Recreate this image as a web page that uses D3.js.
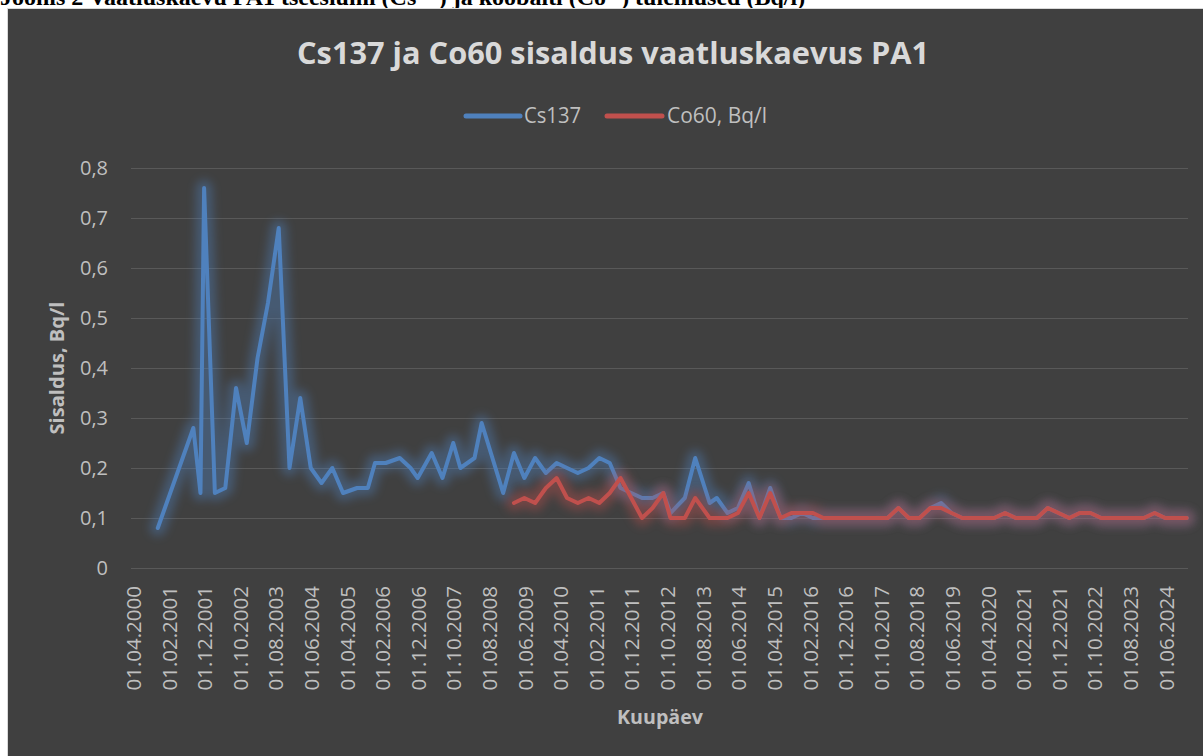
<!DOCTYPE html>
<html>
<head>
<meta charset="utf-8">
<script src="https://cdn.jsdelivr.net/npm/d3@7"></script>
<style>
  html, body { margin: 0; padding: 0; background: #ffffff; }
  svg { display: block; }
</style>
</head>
<body>
<svg id="chart" width="1203" height="756"></svg>
<script>
// ---------- DATA ----------
const chartTitle = "Cs137 ja Co60 sisaldus vaatluskaevus PA1";
const seriesNames = ["Cs137", "Co60, Bq/l"];
const yAxisTitle = "Sisaldus, Bq/l";
const xAxisTitle = "Kuupäev";

const xTickLabels = ["01.04.2000","01.02.2001","01.12.2001","01.10.2002","01.08.2003","01.06.2004",
  "01.04.2005","01.02.2006","01.12.2006","01.10.2007","01.08.2008","01.06.2009","01.04.2010",
  "01.02.2011","01.12.2011","01.10.2012","01.08.2013","01.06.2014","01.04.2015","01.02.2016",
  "01.12.2016","01.10.2017","01.08.2018","01.06.2019","01.04.2020","01.02.2021","01.12.2021",
  "01.10.2022","01.08.2023","01.06.2024"];
const yTickValues = [0, 0.1, 0.2, 0.3, 0.4, 0.5, 0.6, 0.7, 0.8];
const yTickLabels = ["0", "0,1", "0,2", "0,3", "0,4", "0,5", "0,6", "0,7", "0,8"];

// Cs137 sampling dates and values (Bq/l)
const csDates = [
  "2000-10-22","2001-08-22","2001-10-22","2001-11-22","2002-02-22","2002-05-22","2002-08-22","2002-11-22",
  "2003-02-22","2003-05-22","2003-08-22","2003-11-22","2004-02-22","2004-05-22","2004-08-22","2004-11-22",
  "2005-02-22","2005-06-22","2005-09-22","2005-11-22","2006-02-22","2006-06-22","2006-09-22","2006-11-22",
  "2007-03-22","2007-06-22","2007-09-22","2007-11-22","2008-03-22","2008-05-22","2008-11-22",
  "2009-02-22","2009-05-22","2009-08-22","2009-11-22","2010-02-22","2010-05-22","2010-08-22","2010-11-22",
  "2011-02-22","2011-05-22","2011-08-22","2011-11-22","2012-02-22","2012-05-22","2012-08-22","2012-10-22",
  "2013-02-22","2013-05-22","2013-09-22","2013-11-22","2014-02-22","2014-05-22","2014-08-22","2014-11-22",
  "2015-02-22","2015-05-22","2015-08-22","2015-11-22","2016-02-22","2016-05-22","2016-08-22","2016-11-22",
  "2017-02-22","2017-05-22","2017-08-22","2017-11-22","2018-02-22","2018-05-22","2018-08-22","2018-11-22",
  "2019-02-22","2019-05-22","2019-08-22","2019-11-22","2020-02-22","2020-05-22","2020-08-22","2020-11-22",
  "2021-02-22","2021-05-22","2021-08-22","2021-11-22","2022-02-22","2022-05-22","2022-08-22","2022-11-22",
  "2023-02-22","2023-05-22","2023-08-22","2023-11-22","2024-02-22","2024-05-22","2024-08-22","2024-11-22"];
const csValues = [
  0.08,0.28,0.15,0.76,0.15,0.16,0.36,0.25,
  0.42,0.53,0.68,0.20,0.34,0.20,0.17,0.20,
  0.15,0.16,0.16,0.21,0.21,0.22,0.20,0.18,
  0.23,0.18,0.25,0.20,0.22,0.29,0.15,
  0.23,0.18,0.22,0.19,0.21,0.20,0.19,0.20,
  0.22,0.21,0.16,0.15,0.14,0.14,0.15,0.11,
  0.14,0.22,0.13,0.14,0.11,0.12,0.17,0.10,
  0.16,0.10,0.10,0.11,0.10,0.10,0.10,0.10,
  0.10,0.10,0.10,0.10,0.12,0.10,0.10,0.12,
  0.13,0.11,0.10,0.10,0.10,0.10,0.11,0.10,
  0.10,0.10,0.12,0.11,0.10,0.11,0.11,0.10,
  0.10,0.10,0.10,0.10,0.11,0.10,0.10,0.10];

// Co60 sampling dates and values (Bq/l)
const coDates = [
  "2009-02-22","2009-05-22","2009-08-22","2009-11-22","2010-02-22","2010-05-22","2010-08-22","2010-11-22",
  "2011-02-22","2011-05-22","2011-08-22","2011-11-22","2012-02-22","2012-05-22","2012-08-22","2012-10-22",
  "2013-02-22","2013-05-22","2013-09-22","2013-11-22","2014-02-22","2014-05-22","2014-08-22","2014-11-22",
  "2015-02-22","2015-05-22","2015-08-22","2015-11-22","2016-02-22","2016-05-22","2016-08-22","2016-11-22",
  "2017-02-22","2017-05-22","2017-08-22","2017-11-22","2018-02-22","2018-05-22","2018-08-22","2018-11-22",
  "2019-02-22","2019-05-22","2019-08-22","2019-11-22","2020-02-22","2020-05-22","2020-08-22","2020-11-22",
  "2021-02-22","2021-05-22","2021-08-22","2021-11-22","2022-02-22","2022-05-22","2022-08-22","2022-11-22",
  "2023-02-22","2023-05-22","2023-08-22","2023-11-22","2024-02-22","2024-05-22","2024-08-22","2024-11-22"];
const coValues = [
  0.13,0.14,0.13,0.16,0.18,0.14,0.13,0.14,
  0.13,0.15,0.18,0.14,0.10,0.12,0.15,0.10,
  0.10,0.14,0.10,0.10,0.10,0.11,0.15,0.10,
  0.15,0.10,0.11,0.11,0.11,0.10,0.10,0.10,
  0.10,0.10,0.10,0.10,0.12,0.10,0.10,0.12,
  0.12,0.11,0.10,0.10,0.10,0.10,0.11,0.10,
  0.10,0.10,0.12,0.11,0.10,0.11,0.11,0.10,
  0.10,0.10,0.10,0.10,0.11,0.10,0.10,0.10];

// ---------- CHART ----------
const parseDay = d3.timeParse("%Y-%m-%d");
const parseTick = d3.timeParse("%d.%m.%Y");
const csData = csDates.map((d, i) => ({ date: parseDay(d), value: csValues[i] }));
const coData = coDates.map((d, i) => ({ date: parseDay(d), value: coValues[i] }));

const svg = d3.select("#chart");
const FONT = "'Open Sans', 'Noto Sans', sans-serif";
const colors = ["#4f81bd", "#c0504d"];

// caption above the chart (mostly cut off at the top, as in the source)
const cap = svg.append("text")
  .attr("x", 0).attr("y", 5)
  .attr("font-family", "'Liberation Serif', 'DejaVu Serif', serif")
  .attr("font-weight", "bold").attr("font-size", 24).attr("fill", "#000");
cap.append("tspan").text("Joonis 2 Vaatluskaevu PA1 tseesiumi (Cs");
cap.append("tspan").attr("font-size", 15).attr("dy", -10).text("137");
cap.append("tspan").attr("dy", 10).text(") ja koobalti (Co");
cap.append("tspan").attr("font-size", 15).attr("dy", -10).text("60");
cap.append("tspan").attr("dy", 10).text(") tulemused (Bq/l)");

// chart area
svg.append("rect")
  .attr("x", 7.5).attr("y", 8.5).attr("width", 1200).attr("height", 752)
  .attr("fill", "#404040").attr("stroke", "#d9d9d9").attr("stroke-width", 1);

const defs = svg.append("defs");
defs.append("filter").attr("id", "glow")
  .attr("filterUnits", "userSpaceOnUse")
  .attr("x", 0).attr("y", 0).attr("width", 1203).attr("height", 756)
  .append("feGaussianBlur").attr("stdDeviation", 5);

const x = d3.scaleTime()
  .domain([parseDay("2000-03-07"), parseDay("2024-12-03")])
  .range([131, 1188]);
const y = d3.scaleLinear().domain([0, 0.8]).range([568, 168]);

// gridlines
svg.append("g").selectAll("line").data(yTickValues).join("line")
  .attr("x1", x.range()[0]).attr("x2", x.range()[1])
  .attr("y1", d => Math.round(y(d)) + 0.5).attr("y2", d => Math.round(y(d)) + 0.5)
  .attr("stroke", "#595959").attr("stroke-width", 1);

// y tick labels
svg.append("g").selectAll("text").data(yTickValues).join("text")
  .attr("x", 108).attr("y", d => y(d)).attr("dy", "0.35em")
  .attr("text-anchor", "end")
  .attr("font-family", FONT).attr("font-size", 20).attr("fill", "#bfbfbf")
  .text((d, i) => yTickLabels[i]);

// x tick labels (rotated)
svg.append("g").selectAll("text").data(xTickLabels).join("text")
  .attr("transform", d => `translate(${x(parseTick(d))},586) rotate(-90)`)
  .attr("dy", "0.35em")
  .attr("text-anchor", "end")
  .attr("font-family", FONT).attr("font-size", 20.5).attr("fill", "#bfbfbf")
  .text(d => d);

// axis titles
svg.append("text")
  .attr("transform", "translate(64,368) rotate(-90)")
  .attr("text-anchor", "middle")
  .attr("font-family", FONT).attr("font-weight", "bold").attr("font-size", 19)
  .attr("fill", "#bfbfbf")
  .attr("textLength", 133).attr("lengthAdjust", "spacingAndGlyphs")
  .text(yAxisTitle);

svg.append("text")
  .attr("x", 660).attr("y", 724)
  .attr("text-anchor", "middle")
  .attr("font-family", FONT).attr("font-weight", "bold").attr("font-size", 19)
  .attr("fill", "#bfbfbf")
  .attr("textLength", 86).attr("lengthAdjust", "spacingAndGlyphs")
  .text(xAxisTitle);

// title
svg.append("text")
  .attr("x", 613).attr("y", 64)
  .attr("text-anchor", "middle")
  .attr("font-family", FONT).attr("font-weight", "bold").attr("font-size", 30)
  .attr("fill", "#d9d9d9")
  .attr("textLength", 632).attr("lengthAdjust", "spacingAndGlyphs")
  .text(chartTitle);

// legend
const legendItems = [
  { name: seriesNames[0], color: colors[0], x1: 466, x2: 520, tx: 524, tl: 57 },
  { name: seriesNames[1], color: colors[1], x1: 607, x2: 662, tx: 667, tl: 100 }
];
const lg = svg.append("g");
legendItems.forEach(it => {
  lg.append("line").attr("x1", it.x1).attr("x2", it.x2).attr("y1", 116).attr("y2", 116)
    .attr("stroke", it.color).attr("stroke-width", 5).attr("stroke-linecap", "round");
  lg.append("text").attr("x", it.tx).attr("y", 123)
    .attr("font-family", FONT).attr("font-size", 21).attr("fill", "#bfbfbf")
    .attr("textLength", it.tl).attr("lengthAdjust", "spacingAndGlyphs")
    .text(it.name);
});

// lines (soft glow underneath, then the line itself)
const line = d3.line().x(d => x(d.date)).y(d => y(d.value));
[[csData, colors[0]], [coData, colors[1]]].forEach(([data, color]) => {
  svg.append("path").datum(data).attr("d", line)
    .attr("fill", "none").attr("stroke", color).attr("stroke-width", 16)
    .attr("stroke-linejoin", "round").attr("stroke-linecap", "round")
    .attr("opacity", 0.4).attr("filter", "url(#glow)");
  svg.append("path").datum(data).attr("d", line)
    .attr("fill", "none").attr("stroke", color).attr("stroke-width", 4)
    .attr("stroke-linejoin", "round").attr("stroke-linecap", "round");
});
</script>
</body>
</html>
